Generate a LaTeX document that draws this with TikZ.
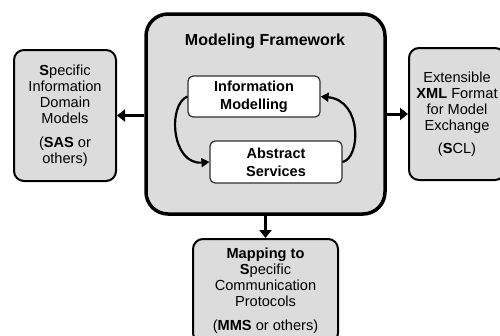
\documentclass[tikz,border=0pt]{standalone}
\usepackage{fontspec}
\setmainfont{Liberation Sans}
\usetikzlibrary{arrows.meta}
\definecolor{boxgray}{HTML}{DCDCDC}
\definecolor{edgegray}{HTML}{303030}
\tikzset{
  sidebox/.style={draw=black, line width=2pt, fill=boxgray, rounded corners=10pt,
    align=center, inner sep=0pt, font=\fontsize{14.6}{16}\selectfont},
  mainbox/.style={draw=black, line width=3.5pt, fill=boxgray, rounded corners=22pt, inner sep=0pt},
  innerbox/.style={draw=edgegray, line width=1.2pt, fill=white, rounded corners=5pt,
    align=center, inner sep=0pt, font=\fontsize{14.5}{18}\selectfont\bfseries},
  bigarrow/.style={line width=3pt, -{Triangle[length=8pt,width=12pt]}},
  curvearrow/.style={line width=2.2pt, -{Triangle[length=8pt,width=9pt]}}
}
\begin{document}
\begin{tikzpicture}[x=1pt,y=-1pt]
\useasboundingbox (0,0) rectangle (500,335);
\clip (0,0) rectangle (500,335);
\node[mainbox, minimum width=239pt, minimum height=200pt] (mf) at (265.5,114) {};
\node[font=\fontsize{16}{18}\selectfont\bfseries] (title) at (265,41) {Modeling Framework};
\node[innerbox, minimum width=132pt, minimum height=41pt] (im) at (254,96.5) {Information\\Modelling};
\node[innerbox, minimum width=132pt, minimum height=42pt] (as) at (276,162) {Abstract\\Services};
\node[sidebox, minimum width=102pt, minimum height=131pt] (lb) at (65,115.5)
  {\textbf{S}pecific\\Information\\Domain\\Models\\[8pt](\textbf{SAS} or\\others)};
\node[sidebox, minimum width=96pt, minimum height=132pt] (rb) at (457,114)
  {Extensible\\\textbf{XML} Format\\for Model\\Exchange\\[7pt](\textbf{S}CL)};
\node[sidebox, minimum width=145pt, minimum height=104pt] (bb) at (265.5,291)
  {\textbf{Mapping to}\\\textbf{S}pecific\\Communication\\Protocols\\[8pt](\textbf{MMS} or others)};
\draw[bigarrow] (lb.east -| mf.west) -- (lb.east);
\draw[bigarrow] (rb.west -| mf.east) -- (rb.west);
\draw[bigarrow] (mf.south) -- (bb.north);
\draw[curvearrow] (im.west) .. controls +(-20,8) and +(-38,3) .. (as.west);
\draw[curvearrow] (as.east) .. controls +(18,-4) and +(42,4) .. (im.east);
\end{tikzpicture}
\end{document}
